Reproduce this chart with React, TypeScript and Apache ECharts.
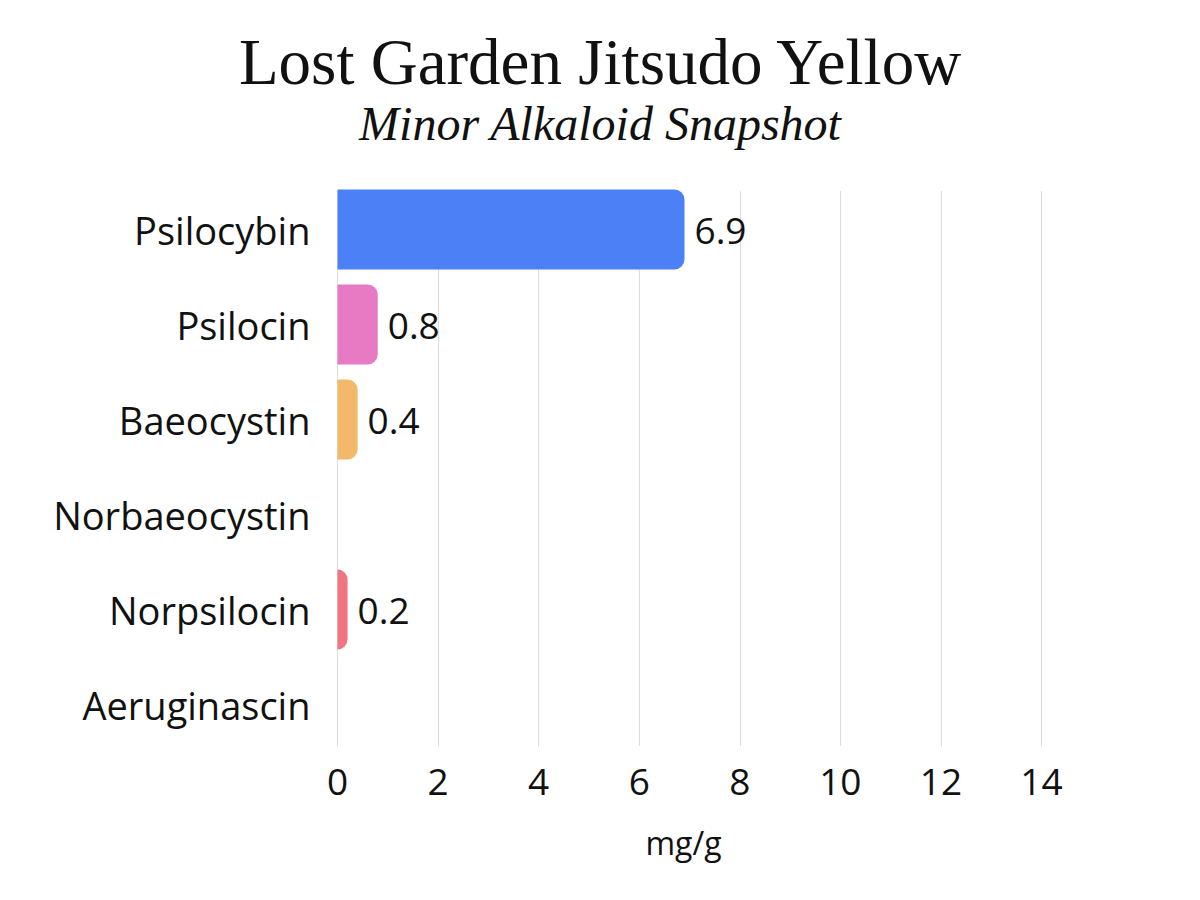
import React, { useEffect, useRef } from "react";
import * as echarts from "echarts";

const categories = ["Psilocybin", "Psilocin", "Baeocystin", "Norbaeocystin", "Norpsilocin", "Aeruginascin"];
const values = [6.9, 0.8, 0.4, 0, 0.2, 0];
const barColors = ["#4b80f6", "#e879c3", "#f4b86b", "#f4b86b", "#f07580", "#f07580"];
const xTicks = [0, 2, 4, 6, 8, 10, 12, 14];
const titleText = "Lost Garden Jitsudo Yellow";
const subtitleText = "Minor Alkaloid Snapshot";
const axisName = "mg/g";

export default function App() {
  const ref = useRef<HTMLDivElement>(null);
  useEffect(() => {
    if (!ref.current) return;
    const chart = echarts.init(ref.current, null, { renderer: "svg" });
    const sans = "'Open Sans', 'Noto Sans', sans-serif";
    const xMax = xTicks[xTicks.length - 1];
    chart.setOption({
      animation: false,
      backgroundColor: "#ffffff",
      title: {
        text: titleText,
        subtext: subtitleText,
        left: "center",
        top: 24,
        itemGap: 5,
        textStyle: { fontFamily: "'Liberation Serif', serif", fontWeight: "normal", fontSize: 65, color: "#111" },
        subtextStyle: { fontFamily: "'Liberation Serif', serif", fontStyle: "italic", fontSize: 48, color: "#111" },
      },
      grid: [
        { left: 337.5, right: 158.5, top: 182, bottom: 148, containLabel: false },
        { left: 337.5, right: 158.5, top: 191, bottom: 154, containLabel: false },
      ],
      xAxis: [
        {
          type: "value",
          gridIndex: 0,
          min: 0,
          max: xMax,
          interval: 2,
          axisLine: { show: false },
          axisTick: { show: false },
          axisLabel: { show: false },
          splitLine: { show: false },
        },
        {
          type: "value",
          gridIndex: 1,
          min: 0,
          max: xMax,
          interval: 2,
          name: axisName,
          nameLocation: "middle",
          nameGap: 80,
          nameTextStyle: { fontFamily: sans, fontSize: 32, color: "#111", padding: [0, 12, 0, 0] },
          axisLine: { show: false },
          axisTick: { show: false },
          axisLabel: { fontFamily: sans, fontSize: 37, color: "#111", margin: 16 },
          splitLine: { show: true, lineStyle: { color: "#dddddd", width: 1 } },
        },
      ],
      yAxis: [
        {
          type: "category",
          gridIndex: 0,
          data: categories,
          inverse: true,
          axisLine: { show: false },
          axisTick: { show: false },
          axisLabel: { fontFamily: sans, fontSize: 38, color: "#111", margin: 27 },
          splitLine: { show: false },
        },
        {
          type: "value",
          gridIndex: 1,
          min: 0,
          max: 1,
          show: false,
        },
      ],
      series: [
        {
          type: "bar",
          xAxisIndex: 0,
          yAxisIndex: 0,
          z: 3,
          data: values.map((v, i) => ({ value: v, itemStyle: { color: barColors[i] } })),
          barCategoryGap: "16%",
          itemStyle: { borderRadius: [0, 10, 10, 0] },
          label: {
            show: true,
            position: "right",
            distance: 10,
            fontFamily: sans,
            fontSize: 37,
            color: "#111",
            formatter: (p: any) => (p.value === 0 ? "" : String(p.value)),
          },
        },
      ],
    });
    return () => chart.dispose();
  }, []);
  return <div ref={ref} style={{ width: 1200, height: 900, margin: -8 }} />;
}
